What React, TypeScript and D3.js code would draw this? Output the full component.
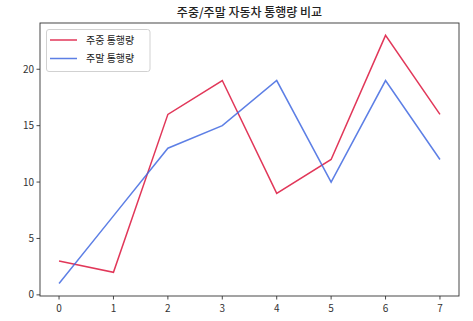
import React from "react";
import * as d3 from "d3";

const xValues = [0, 1, 2, 3, 4, 5, 6, 7];
const weekday = [3, 2, 16, 19, 9, 12, 23, 16];
const weekend = [1, 7, 13, 15, 19, 10, 19, 12];
const xTicks = [0, 1, 2, 3, 4, 5, 6, 7];
const yTicks = [0, 5, 10, 15, 20];
const seriesNames = ["주중 통행량", "주말 통행량"];
const title = "주중/주말 자동차 통행량 비교";

const W = 473, H = 321;
const L = 40, R = 459, T = 23, B = 296;
const FONT = "'Noto Sans CJK KR', 'Noto Sans', sans-serif";
const COLORS = ["#DC143C", "#4169E1"];

export default function App() {
  const x = d3.scaleLinear().domain([-0.35, 7.35]).range([L, R]);
  const y = d3.scaleLinear().domain([-0.1, 24.1]).range([B, T]);
  const line = d3.line<number>().x((_, i) => x(xValues[i])).y((d) => y(d));
  const series = [weekday, weekend];
  return (
    <svg width={W} height={H} style={{ position: "absolute", left: 0, top: 0, background: "#fff" }}>
      <text x={(L + R) / 2} y={17} textAnchor="middle" fontFamily={FONT} fontSize={12} fontWeight={500} fill="#222">{title}</text>
      {series.map((s, k) => (
        <path key={k} d={line(s) || ""} fill="none" stroke={COLORS[k]} strokeOpacity={0.85} strokeWidth={1.5} />
      ))}
      <rect x={L} y={T} width={R - L} height={B - T} fill="none" stroke="#333" strokeWidth={0.9} />
      {xTicks.map((t) => (
        <g key={t}>
          <line x1={x(t)} x2={x(t)} y1={B} y2={B + 3.5} stroke="#333" strokeWidth={0.9} />
          <text x={x(t)} y={B + 16} textAnchor="middle" fontFamily={FONT} fontSize={10} fill="#333">{t}</text>
        </g>
      ))}
      {yTicks.map((t) => (
        <g key={t}>
          <line x1={L - 3.5} x2={L} y1={y(t)} y2={y(t)} stroke="#333" strokeWidth={0.9} />
          <text x={L - 6} y={y(t) + 3.5} textAnchor="end" fontFamily={FONT} fontSize={10} fill="#333">{t}</text>
        </g>
      ))}
      <rect x={46.5} y={29.5} width={103.5} height={42} rx={2.5} fill="#fff" fillOpacity={0.8} stroke="#ccc" strokeWidth={0.9} />
      {seriesNames.map((n, k) => (
        <g key={n}>
          <line x1={50} x2={77} y1={40 + k * 18.5} y2={40 + k * 18.5} stroke={COLORS[k]} strokeOpacity={0.85} strokeWidth={1.5} />
          <text x={86} y={40 + k * 18.5 + 3.5} fontFamily={FONT} fontSize={10} fill="#222">{n}</text>
        </g>
      ))}
    </svg>
  );
}
